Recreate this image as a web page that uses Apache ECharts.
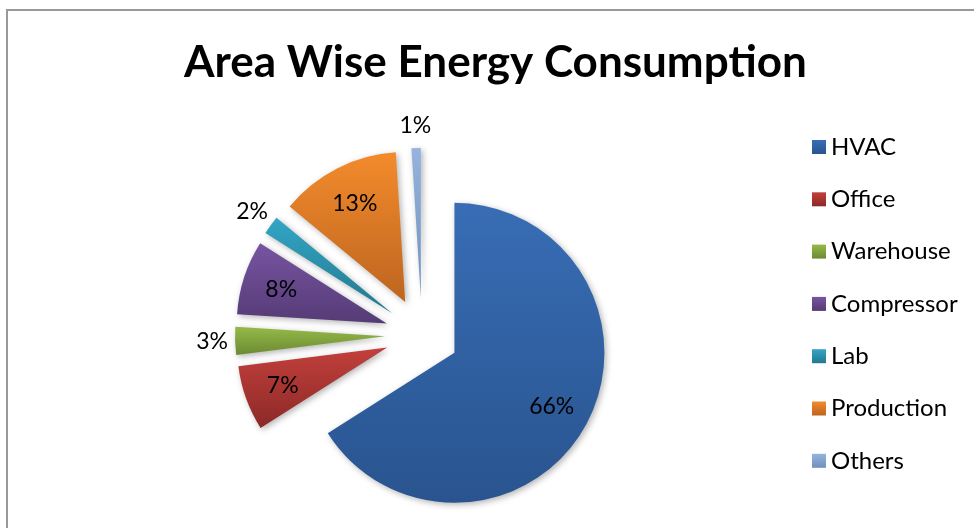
<!DOCTYPE html>
<html>
<head>
<meta charset="utf-8">
<script src="https://cdn.jsdelivr.net/npm/echarts@6/dist/echarts.min.js"></script>
<style>
  html, body { margin: 0; padding: 0; background: #fff; }
  #chart { width: 974px; height: 528px; }
</style>
</head>
<body>
<div id="chart"></div>
<script>
// Energy share by area (percent)
const categories = ['HVAC', 'Office', 'Warehouse', 'Compressor', 'Lab', 'Production', 'Others'];
const shares = [66, 7, 3, 8, 2, 13, 1];

// Slice fill: lighter at the top, darker at the bottom
const topColors = ['#386db5', '#c2403c', '#95ba48', '#7754a1', '#33a6c6', '#f38b2c', '#96b3df'];
const bottomColors = ['#29548f', '#8c2927', '#6c8a32', '#553b76', '#23788e', '#bd651f', '#7190bd'];

const FONT = 'Lato, "Open Sans", sans-serif';
const CENTER = [422, 335];
const R = 150;
const EXPLODE = 37;
const SMALL = 5; // slices below this share get their label outside

function gradient(i) {
  return new echarts.graphic.LinearGradient(0, 0, 0, 1, [
    { offset: 0, color: topColors[i] },
    { offset: 1, color: bottomColors[i] }
  ]);
}

const sliceData = categories.map((name, i) => ({
  name,
  value: shares[i],
  selected: true,
  itemStyle: { color: gradient(i) }
}));

function labelData(inner) {
  return categories.map((name, i) => ({
    name,
    value: shares[i],
    selected: true,
    label: { show: inner ? shares[i] >= SMALL : shares[i] < SMALL }
  }));
}

const labelSeriesBase = {
  type: 'pie',
  center: CENTER,
  startAngle: 90,
  clockwise: true,
  selectedMode: 'multiple',
  selectedOffset: EXPLODE,
  silent: true,
  animation: false,
  legendHoverLink: false,
  itemStyle: { color: 'rgba(0,0,0,0)' },
  labelLine: { show: false },
  emphasis: { disabled: true },
  label: {
    position: 'inside',
    formatter: '{c}%',
    color: '#000',
    fontFamily: FONT,
    fontSize: 23
  },
  tooltip: { show: false }
};

const chart = echarts.init(document.getElementById('chart'), null, { renderer: 'canvas' });
chart.setOption({
  animation: false,
  backgroundColor: '#fff',
  title: {
    text: 'Area Wise Energy Consumption',
    left: 179,
    top: 36,
    textStyle: {
      fontFamily: FONT,
      fontWeight: 'bold',
      fontSize: 44,
      color: '#000'
    }
  },
  legend: {
    orient: 'vertical',
    left: 807,
    top: 129,
    icon: 'rect',
    itemWidth: 14,
    itemHeight: 14,
    itemGap: 26.3,
    selectedMode: false,
    data: categories,
    textStyle: {
      fontFamily: FONT,
      fontSize: 24,
      lineHeight: 26,
      color: '#000',
      padding: [0, 0, 0, 0]
    }
  },
  graphic: [{
    type: 'polyline',
    silent: true,
    shape: { points: [[7, 528], [7, 10], [974, 10]] },
    style: { stroke: '#999', lineWidth: 2, fill: null }
  }],
  series: [
    {
      name: 'Energy',
      type: 'pie',
      center: CENTER,
      radius: R,
      startAngle: 90,
      clockwise: true,
      selectedMode: 'multiple',
      selectedOffset: EXPLODE,
      data: sliceData,
      label: { show: false },
      labelLine: { show: false },
      itemStyle: {
        shadowBlur: 6,
        shadowOffsetX: 2,
        shadowOffsetY: 2,
        shadowColor: 'rgba(0,0,0,0.3)'
      },
      emphasis: { disabled: true },
      select: { itemStyle: {} }
    },
    Object.assign({}, labelSeriesBase, { name: 'inner-labels', radius: [66, R], data: labelData(true) }),
    Object.assign({}, labelSeriesBase, { name: 'outer-labels', radius: [R, 190], data: labelData(false) })
  ]
});
</script>
</body>
</html>
